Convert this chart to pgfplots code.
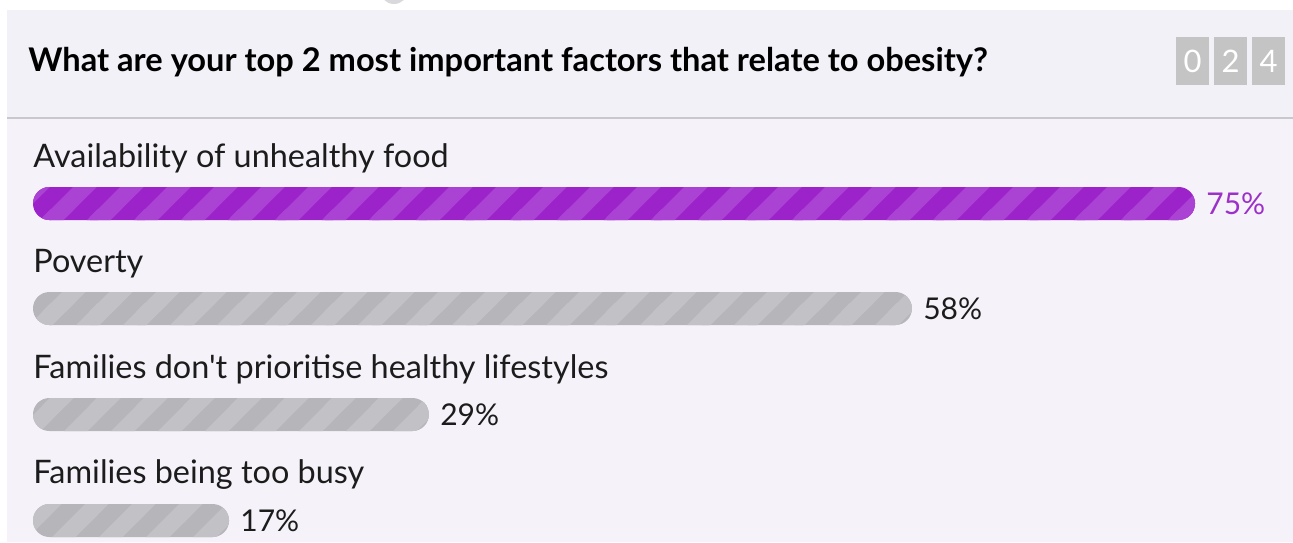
\documentclass[border=0pt]{standalone}
\usepackage{fontspec}
\setmainfont{Lato}[Ligatures=TeXOff]
\usepackage{pgfplots}
\pgfplotsset{compat=1.18}
\usetikzlibrary{patterns.meta}
\definecolor{titlebg}{HTML}{F2F1F7}
\definecolor{bodybg}{HTML}{F5F3F9}
\definecolor{sepc}{HTML}{C9C8CD}
\definecolor{boxc}{HTML}{C4C4C4}
\definecolor{circc}{HTML}{D9D9DB}
\definecolor{purpdark}{HTML}{9C22C9}
\definecolor{purplight}{HTML}{AA42D3}
\definecolor{greydark}{HTML}{B6B5BA}
\definecolor{greylight}{HTML}{C2C1C6}
\definecolor{txt}{HTML}{1C1C1C}
\definecolor{pcttxt}{HTML}{9C30C9}
\tikzdeclarepattern{
  name=stripes,
  type=uncolored,
  bounding box={(-2pt,-2pt) and (25.5pt,25.5pt)},
  tile size={(23.5pt,23.5pt)},
  code={
    \fill (-3pt,-3pt) -- (8.75pt,-3pt) -- (38.25pt,26.5pt) -- (26.5pt,26.5pt) -- cycle;
    \fill (-26.5pt,-3pt) -- (-14.75pt,-3pt) -- (14.75pt,26.5pt) -- (3pt,26.5pt) -- cycle;
    \fill (20.5pt,-3pt) -- (32.25pt,-3pt) -- (61.75pt,26.5pt) -- (50pt,26.5pt) -- cycle;
  }
}
\begin{document}
\begin{tikzpicture}
\useasboundingbox (0,0) rectangle (646.5pt,271pt);
\begin{scope}[x=0.5pt, y=-0.5pt, shift={(0pt,271pt)}]
\fill[white] (0,-20) rectangle (1293,542);
\fill[circc] (394,-10) circle[radius=14];
\fill[titlebg] (7,10) rectangle (1293,117);
\fill[bodybg] (7,117) rectangle (1293,542);
\draw[sepc, line width=1pt] (7,117.5) -- (1293,117.5);
\node[anchor=base west, inner sep=0pt, text=black, font=\fontsize{16.3}{19}\selectfont\bfseries]
  at (28,71.5) {What are your top 2 most important factors that relate to obesity?};
\fill[boxc] (1176,37) rectangle (1209,85);
\fill[boxc] (1214,37) rectangle (1247,85);
\fill[boxc] (1252,37) rectangle (1285,85);
\node[text=white, inner sep=0pt, font=\fontsize{15.5}{18}\selectfont] at (1192.5,61) {0};
\node[text=white, inner sep=0pt, font=\fontsize{15.5}{18}\selectfont] at (1230.5,61) {2};
\node[text=white, inner sep=0pt, font=\fontsize{15.5}{18}\selectfont] at (1268.5,61) {4};
\node[anchor=base west, inner sep=0pt, text=txt, font=\fontsize{16.2}{19}\selectfont] at (33,167) {Availability of unhealthy food};
\node[anchor=base west, inner sep=0pt, text=txt, font=\fontsize{16.2}{19}\selectfont] at (33,272.5) {Poverty};
\node[anchor=base west, inner sep=0pt, text=txt, font=\fontsize{16.2}{19}\selectfont] at (33,378) {Families don't prioritise healthy lifestyles};
\node[anchor=base west, inner sep=0pt, text=txt, font=\fontsize{16.2}{19}\selectfont] at (33,483.5) {Families being too busy};
\end{scope}
\begin{axis}[at={(0,0)}, anchor=south west, scale only axis,
  width=646.5pt, height=271pt,
  xmin=3.2483, xmax=80.883, ymin=0, ymax=542, y dir=reverse,
  hide axis, clip=false]
\addplot[draw=none, fill=purpdark, rounded corners=8.2pt, postaction={pattern=stripes, pattern color=purplight}]
  coordinates {(5.2297,187) (75,187) (75,220) (5.2297,220)} -- cycle;
\addplot[draw=none, fill=greydark, rounded corners=8.2pt, postaction={pattern=stripes, pattern color=greylight}]
  coordinates {(5.2297,292) (58,292) (58,325) (5.2297,325)} -- cycle;
\addplot[draw=none, fill=greydark, rounded corners=8.2pt, postaction={pattern=stripes, pattern color=greylight}]
  coordinates {(5.2297,398) (29,398) (29,431) (5.2297,431)} -- cycle;
\addplot[draw=none, fill=greydark, rounded corners=8.2pt, postaction={pattern=stripes, pattern color=greylight}]
  coordinates {(5.2297,504) (17,504) (17,537) (5.2297,537)} -- cycle;
\node[anchor=west, inner sep=0pt, xshift=5.5pt, text=pcttxt, font=\fontsize{15}{18}\selectfont] at (axis cs:75,203.5) {75\%};
\node[anchor=west, inner sep=0pt, xshift=5.5pt, text=txt, font=\fontsize{15}{18}\selectfont] at (axis cs:58,308.5) {58\%};
\node[anchor=west, inner sep=0pt, xshift=5.5pt, text=txt, font=\fontsize{15}{18}\selectfont] at (axis cs:29,414.5) {29\%};
\node[anchor=west, inner sep=0pt, xshift=5.5pt, text=txt, font=\fontsize{15}{18}\selectfont] at (axis cs:17,520.5) {17\%};
\end{axis}
\end{tikzpicture}
\end{document}
